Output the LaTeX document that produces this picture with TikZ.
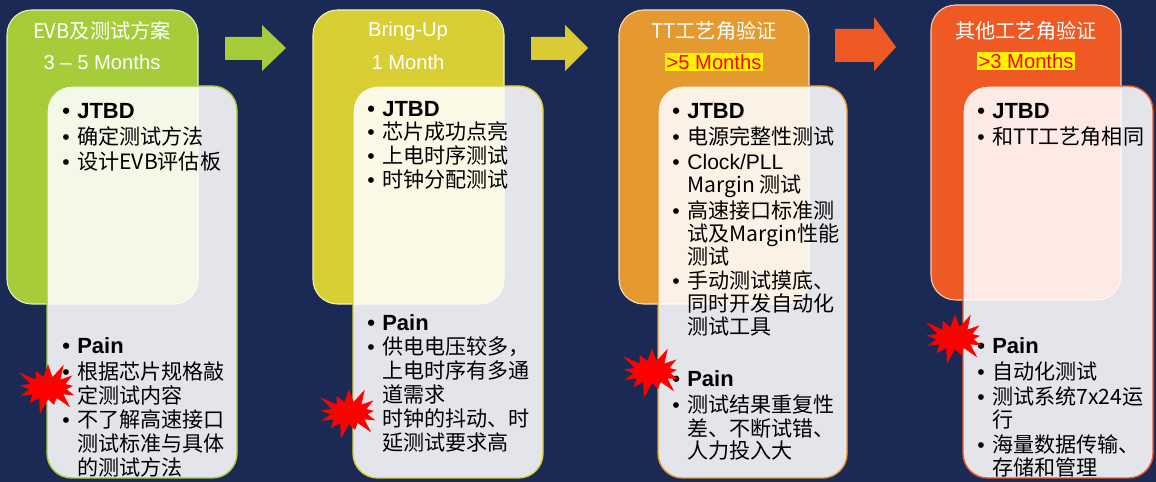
\documentclass[tikz,border=0pt]{standalone}
\usepackage{fontspec}
\setmainfont{Liberation Sans}
\newfontfamily\cjk{Noto Sans CJK SC}
\usetikzlibrary{shapes.symbols}
\definecolor{navy}{HTML}{1B2A55}
\definecolor{cA}{HTML}{A6CC3A}
\definecolor{cB}{HTML}{D9CF35}
\definecolor{cC}{HTML}{E49A2E}
\definecolor{cD}{HTML}{EF5A24}
\tikzset{
  head/.style={rounded corners=14pt,line width=0.6pt,draw=white!70!#1,fill=#1},
  card/.style={rounded corners=14pt,line width=0.8pt,draw=#1,fill=white,fill opacity=0.88},
  htxt/.style={text=white,font=\cjk\fontsize{11.5}{12}\selectfont},
  hl/.style={fill=yellow,text=red,inner sep=1pt,font=\fontsize{11.5}{12}\selectfont},
  itm/.style={anchor=base west,inner sep=0pt,font=\cjk\fontsize{12}{12}\selectfont},
  bld/.style={anchor=base west,inner sep=0pt,font=\bfseries\fontsize{12.5}{13}\selectfont},
  step/.style={fill=#1},
  boom/.style={starburst,starburst points=13,starburst point height=0.35cm,fill=red,draw=none,minimum width=1.45cm,minimum height=1.15cm,inner sep=0pt}
}
% bullet line and continuation line
\newcommand{\bl}[4][itm]{\node[#1] at (#2,#3) {\makebox[0.3cm][l]{\fontspec{Liberation Sans}\textbullet}#4};}
\newcommand{\cl}[3]{\node[itm] at (#1,#2) {\hspace{0.3cm}#3};}
\begin{document}
\begin{tikzpicture}[x=0.02cm,y=-0.02cm]
  \fill[navy] (0,0) rectangle (1156,482);
  % headers
  \draw[head=cA] (7,10) rectangle (198,304);
  \draw[head=cB] (313,10) rectangle (504,304);
  \draw[head=cC] (619,10) rectangle (809,304);
  \draw[head=cD] (931,5) rectangle (1121,300);
  \node[htxt] (t1) at (102,31) {EVB及测试方案};
  \node[htxt,font=\fontsize{11.5}{12}\selectfont] (m1) at (102,62) {3 – 5 Months};
  \node[htxt] (t2) at (408,31) {\fontspec{Liberation Sans}Bring-Up};
  \node[htxt,font=\fontsize{11.5}{12}\selectfont] (m2) at (408,62) {1 Month};
  \node[htxt] (t3) at (714,31) {TT工艺角验证};
  \node[hl] (m3) at (714,62) {>5 Months};
  \node[htxt] (t4) at (1026,31) {其他工艺角验证};
  \node[hl] (m4) at (1026,61) {>3 Months};
  % arrows between steps
  \fill[step=cA] (225,37) -- (262,37) -- (262,25) -- (286,48) -- (262,71) -- (262,60) -- (225,60) -- cycle;
  \fill[step=cB!90!cC] (531,37) -- (565,37) -- (565,25) -- (588,48) -- (565,71) -- (565,60) -- (531,60) -- cycle;
  \fill[step=cD] (835,29) -- (874,29) -- (874,17) -- (896,47) -- (874,71) -- (874,62) -- (835,62) -- cycle;
  % cards
  \draw[card=cA] (47,86) rectangle (237,478);
  \draw[card=cB] (353,86) rectangle (543,478);
  \draw[card=cC] (658,86) rectangle (847,478);
  \draw[card=cD] (963,86) rectangle (1153,478);
  % column 1
  \bl[bld]{62}{119}{JTBD}
  \bl{62}{145}{确定测试方法}
  \bl{62}{170}{设计EVB评估板}
  \bl[bld]{62}{354}{Pain}
  \bl{62}{380}{根据芯片规格敲}
  \cl{62}{404}{定测试内容}
  \bl{62}{428}{不了解高速接口}
  \cl{62}{452}{测试标准与具体}
  \cl{62}{476}{的测试方法}
  % column 2
  \bl[bld]{367}{117}{JTBD}
  \bl{367}{140}{芯片成功点亮}
  \bl{367}{164}{上电时序测试}
  \bl{367}{188}{时钟分配测试}
  \bl[bld]{367}{331}{Pain}
  \bl{367}{355}{供电电压较多，}
  \cl{367}{379}{上电时序有多通}
  \cl{367}{403}{道需求}
  \cl{367}{427}{时钟的抖动、时}
  \cl{367}{451}{延测试要求高}
  % column 3
  \bl[bld]{672}{119}{JTBD}
  \bl{672}{145}{电源完整性测试}
  \bl{672}{170}{\fontspec{Liberation Sans}Clock/PLL}
  \cl{672}{193}{Margin 测试}
  \bl{672}{219}{高速接口标准测}
  \cl{672}{242}{试及Margin性能}
  \cl{672}{265}{测试}
  \bl{672}{289}{手动测试摸底、}
  \cl{672}{312}{同时开发自动化}
  \cl{672}{335}{测试工具}
  \bl[bld]{672}{387}{Pain}
  \bl{672}{413}{测试结果重复性}
  \cl{672}{437}{差、不断试错、}
  \cl{672}{459}{人力投入大}
  % column 4
  \bl[bld]{977}{119}{JTBD}
  \bl{977}{145}{和TT工艺角相同}
  \bl[bld]{977}{354}{Pain}
  \bl{977}{380}{自动化测试}
  \bl{977}{405}{测试系统7x24运}
  \cl{977}{428}{行}
  \bl{977}{453}{海量数据传输、}
  \cl{977}{476}{存储和管理}
  % pain marks
  \node[boom] (s1) at (48,388) {};
  \node[boom] (s2) at (349,413) {};
  \node[boom] (s3) at (652,372) {};
  \node[boom] (s4) at (955,338) {};
\end{tikzpicture}
\end{document}
